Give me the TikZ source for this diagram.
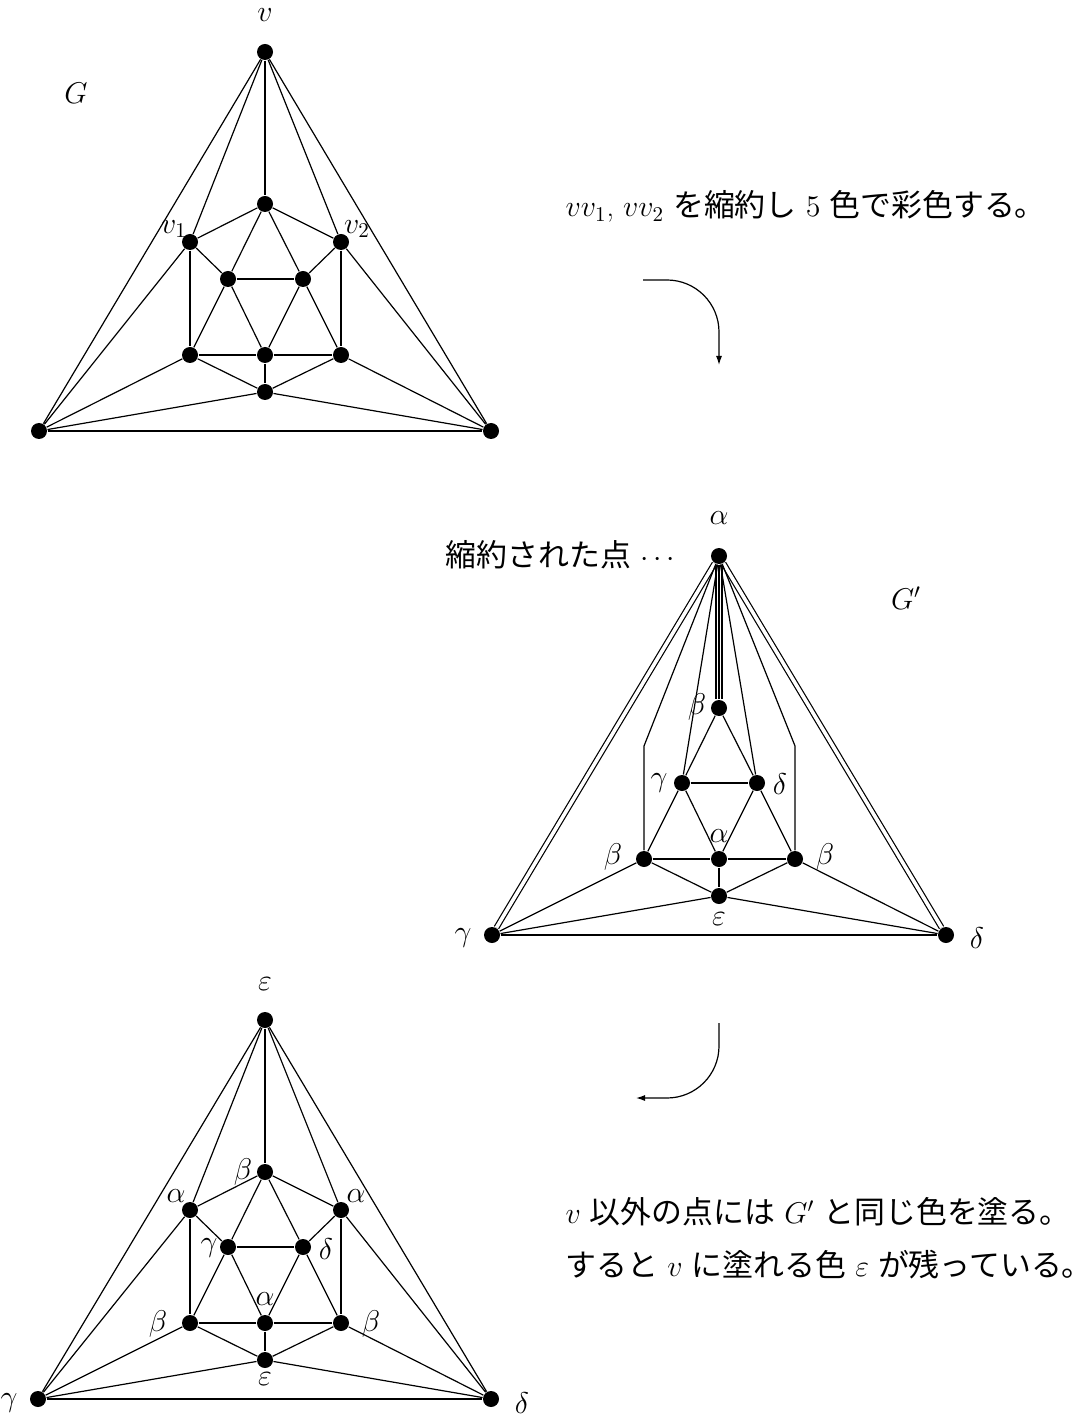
\RequirePackage{fix-cm}
\documentclass[tikz,border=0pt]{standalone}
\usepackage{fontspec}
\newfontfamily\jp[Scale=1.03]{Noto Sans CJK JP}
\usetikzlibrary{arrows.meta}
\begin{document}
\begin{tikzpicture}[x=0.5pt,y=-0.5pt,line width=0.6pt,
  font=\fontsize{15}{18}\selectfont,
  vtx/.style={circle,fill=black,inner sep=0pt,minimum size=8pt},
  lbl/.style={inner sep=0pt},
  txt/.style={anchor=base west,inner sep=0pt},
  dbl/.style={double,double distance=1.8pt},
  trp/.style={double,double distance=2.4pt},
  arr/.style={-{Latex[length=4.5pt,width=3pt]}}]
\useasboundingbox (0,0) rectangle (1088,1416);

% ---------- G ----------
\node[vtx] (a1) at (265,52) {};
\node[vtx] (a2) at (265,204) {};
\node[vtx] (a3) at (190,242) {};
\node[vtx] (a4) at (341,242) {};
\node[vtx] (a5) at (228,279) {};
\node[vtx] (a6) at (303,279) {};
\node[vtx] (a7) at (190,355) {};
\node[vtx] (a8) at (265,355) {};
\node[vtx] (a9) at (341,355) {};
\node[vtx] (a10) at (265,392) {};
\node[vtx] (a11) at (39,431) {};
\node[vtx] (a12) at (491,431) {};
\foreach \p/\q in {1/2,1/3,1/4,1/11,1/12,2/3,2/4,2/5,2/6,3/5,3/7,3/11,
  4/6,4/9,4/12,5/6,5/7,5/8,6/8,6/9,7/8,8/9,7/10,8/10,9/10,7/11,9/12,
  10/11,10/12,11/12}
  \draw (a\p) -- (a\q);
\node[lbl] (la1) at (265,15) {$v$};
\node[lbl] (lG) at (76,93) {$G$};
\node[lbl] (la3) at (174,229) {$v_1$};
\node[lbl] (la4) at (357,229) {$v_2$};

% ---------- G' ----------
\begin{scope}[shift={(454,504)}]
\node[vtx] (b1) at (265,52) {};
\node[vtx] (b2) at (265,204) {};
\coordinate (bl) at (190,242);
\coordinate (br) at (341,242);
\node[vtx] (b5) at (228,279) {};
\node[vtx] (b6) at (303,279) {};
\node[vtx] (b7) at (190,355) {};
\node[vtx] (b8) at (265,355) {};
\node[vtx] (b9) at (341,355) {};
\node[vtx] (b10) at (265,392) {};
\node[vtx] (b11) at (38,431) {};
\node[vtx] (b12) at (492,431) {};
\end{scope}
\draw[dbl] (b1) -- (b11);
\draw[dbl] (b1) -- (b12);
\draw[trp] (b1) -- (b2);
\draw (b1) -- (b2);
\draw (b1) -- (bl) -- (b7);
\draw (b1) -- (br) -- (b9);
\foreach \p/\q in {1/5,1/6,2/5,2/6,5/6,5/7,5/8,6/8,6/9,7/8,8/9,7/10,8/10,9/10,
  7/11,9/12,10/11,10/12,11/12}
  \draw (b\p) -- (b\q);
\node[lbl] (lb1) at (719,518) {$\alpha$};
\node[lbl] (lGp) at (906,598) {$G'$};
\node[lbl] (lb2) at (697,707) {$\beta$};
\node[lbl] (lb5) at (659,783) {$\gamma$};
\node[lbl] (lb6) at (780,784) {$\delta$};
\node[lbl] (lb7) at (613,857) {$\beta$};
\node[lbl] (lb8) at (719,836) {$\alpha$};
\node[lbl] (lb9) at (825,857) {$\beta$};
\node[lbl] (lb10) at (719,919) {$\varepsilon$};
\node[lbl] (lb11) at (463,938) {$\gamma$};
\node[lbl] (lb12) at (977,938) {$\delta$};

% ---------- G'' ----------
\begin{scope}[shift={(0,968)}]
\node[vtx] (c1) at (265,52) {};
\node[vtx] (c2) at (265,204) {};
\node[vtx] (c3) at (190,242) {};
\node[vtx] (c4) at (341,242) {};
\node[vtx] (c5) at (228,279) {};
\node[vtx] (c6) at (303,279) {};
\node[vtx] (c7) at (190,355) {};
\node[vtx] (c8) at (265,355) {};
\node[vtx] (c9) at (341,355) {};
\node[vtx] (c10) at (265,392) {};
\node[vtx] (c11) at (38,431) {};
\node[vtx] (c12) at (491,431) {};
\end{scope}
\foreach \p/\q in {1/2,1/3,1/4,1/11,1/12,2/3,2/4,2/5,2/6,3/5,3/7,3/11,
  4/6,4/9,4/12,5/6,5/7,5/8,6/8,6/9,7/8,8/9,7/10,8/10,9/10,7/11,9/12,
  10/11,10/12,11/12}
  \draw (c\p) -- (c\q);
\node[lbl] (lc1) at (265,984) {$\varepsilon$};
\node[lbl] (lc2) at (243,1172) {$\beta$};
\node[lbl] (lc3) at (176,1196) {$\alpha$};
\node[lbl] (lc4) at (356,1196) {$\alpha$};
\node[lbl] (lc5) at (209,1248) {$\gamma$};
\node[lbl] (lc6) at (326,1249) {$\delta$};
\node[lbl] (lc8) at (265,1299) {$\alpha$};
\node[lbl] (lc7) at (158,1324) {$\beta$};
\node[lbl] (lc9) at (371,1324) {$\beta$};
\node[lbl] (lc10) at (265,1379) {$\varepsilon$};
\node[lbl] (lc11) at (9,1403) {$\gamma$};
\node[lbl] (lc12) at (522,1403) {$\delta$};

% ---------- texts ----------
\node[txt] (t1) at (565,217) {$vv_1$, $vv_2$ {\jp を縮約し} $5$ {\jp 色で彩色する。}};
\node[txt] (t2) at (445,566) {{\jp 縮約された点} $\cdots$};
\node[txt] (t3) at (565,1223) {$v$ {\jp 以外の点には} $G'$ {\jp と同じ色を塗る。}};
\node[txt] (t4) at (565,1276) {{\jp すると} $v$ {\jp に塗れる色} $\varepsilon$ {\jp が残っている。}};

% ---------- arrows ----------
\coordinate (r1s) at (643,280);
\coordinate (r1e) at (719,365);
\draw[arr] (r1s) -- (667,280) .. controls (695.7,280) and (719,303.3) .. (719,332) -- (r1e);
\coordinate (r2s) at (719,1023);
\coordinate (r2e) at (636,1098);
\draw[arr] (r2s) -- (719,1046) .. controls (719,1074.7) and (695.7,1098) .. (667,1098) -- (r2e);
\end{tikzpicture}
\end{document}
